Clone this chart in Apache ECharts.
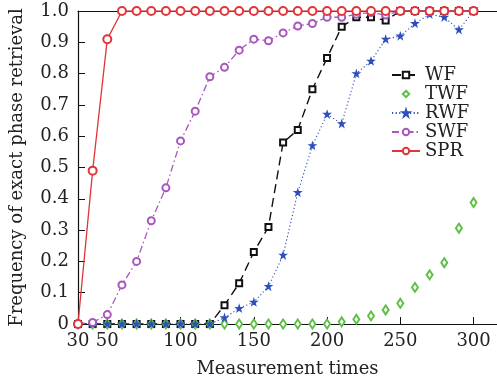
<!DOCTYPE html>
<html>
<head>
<meta charset="utf-8">
<script src="https://cdn.jsdelivr.net/npm/echarts@6/dist/echarts.min.js"></script>
<style>
  html, body { margin: 0; padding: 0; background: #fff; }
  #chart { width: 497px; height: 384px; }
</style>
</head>
<body>
<div id="chart"></div>
<script>
const measurementTimes = [30, 40, 50, 60, 70, 80, 90, 100, 110, 120, 130, 140, 150, 160, 170, 180, 190, 200, 210, 220, 230, 240, 250, 260, 270, 280, 290, 300];
const wf  = [0, 0, 0, 0, 0, 0, 0, 0, 0, 0, 0.06, 0.13, 0.23, 0.31, 0.58, 0.62, 0.75, 0.85, 0.95, 0.98, 0.98, 0.97, 1, 1, 1, 1, 1, 1];
const twf = [0, 0, 0, 0, 0, 0, 0, 0, 0, 0, 0, 0, 0, 0, 0, 0, 0, 0, 0.007, 0.015, 0.026, 0.045, 0.066, 0.117, 0.157, 0.196, 0.306, 0.388];
const rwf = [0, 0, 0, 0, 0, 0, 0, 0, 0, 0, 0.02, 0.05, 0.07, 0.12, 0.22, 0.42, 0.57, 0.67, 0.64, 0.80, 0.84, 0.91, 0.92, 0.96, 0.99, 0.98, 0.94, 1];
const swf = [0, 0.005, 0.03, 0.125, 0.2, 0.33, 0.435, 0.585, 0.68, 0.79, 0.82, 0.875, 0.91, 0.905, 0.93, 0.952, 0.96, 0.98, 0.98, 0.99, 0.995, 0.987, 1, 1, 1, 1, 1, 1];
const spr = [0, 0.49, 0.91, 1, 1, 1, 1, 1, 1, 1, 1, 1, 1, 1, 1, 1, 1, 1, 1, 1, 1, 1, 1, 1, 1, 1, 1, 1];
const xTicks = [30, 50, 100, 150, 200, 250, 300];

const font = "'DejaVu Serif', 'Liberation Serif', serif";
const starPath = "path://M50,0 L61.8,35.4 L100,35.4 L69.1,57.3 L80.9,95.1 L50,72.4 L19.1,95.1 L30.9,57.3 L0,35.4 L38.2,35.4 Z";

const pairs = (ys) => measurementTimes.map((x, i) => [x, ys[i]]);

function lineSeries(name, ys, color, symbol, size, dash, z, width) {
  return {
    name, type: "line", data: pairs(ys), z,
    symbol, symbolSize: size, showSymbol: true, showAllSymbol: true,
    lineStyle: { color, width: width, type: dash },
    itemStyle: { color, borderColor: color, borderWidth: 1.3 },
    emphasis: { disabled: true }
  };
}

const chart = echarts.init(document.getElementById("chart"), null, { renderer: "canvas" });
chart.setOption({
  animation: false,
  backgroundColor: "#fff",
  textStyle: { fontFamily: font, color: "#222" },
  grid: { left: 78, right: 0, top: 11, bottom: 60, containLabel: false },
  legend: {
    orient: "vertical", left: 386, top: 61, itemWidth: 28, itemHeight: 8, itemGap: 1,
    textStyle: { fontFamily: font, fontSize: 18, color: "#222", lineHeight: 18 },
    data: ["WF", "TWF", "RWF", "SWF", "SPR"]
  },
  xAxis: [{
    type: "value", min: 30, max: 316,
    name: "Measurement times", nameLocation: "middle", nameGap: 36,
    nameTextStyle: { fontFamily: font, fontSize: 18, color: "#222" },
    axisLine: { lineStyle: { color: "#111", width: 1.2 } },
    axisTick: { inside: true, length: 7, customValues: xTicks, lineStyle: { color: "#111" } },
    axisLabel: { customValues: xTicks, fontFamily: font, fontSize: 18, color: "#222", margin: 8 },
    splitLine: { show: false }
  }, {
    type: "value", min: 30, max: 316, position: "top",
    axisLine: { show: true, lineStyle: { color: "#111", width: 1.2 } },
    axisTick: { show: false }, axisLabel: { show: false }, splitLine: { show: false }
  }],
  yAxis: {
    type: "value", min: 0, max: 1, interval: 0.1,
    name: "Frequency of exact phase retrieval", nameLocation: "middle", nameGap: 52,
    nameTextStyle: { fontFamily: font, fontSize: 18, color: "#222" },
    axisLine: { show: true, lineStyle: { color: "#111", width: 1.2 } },
    axisTick: { inside: true, length: 7, lineStyle: { color: "#111" } },
    axisLabel: { fontFamily: font, fontSize: 18, color: "#222", margin: 9,
      formatter: (v) => v === 0 ? "0" : v.toFixed(1) },
    splitLine: { show: false }
  },
  series: [
    lineSeries("WF", wf, "#111", "emptyRect", 6, [9, 5], 2, 1.4),
    Object.assign(lineSeries("TWF", twf, "#5dbf45", "emptyDiamond", [6, 9], "solid", 3, 0), { lineStyle: { width: 0, opacity: 0, color: "#5dbf45" } }),
    lineSeries("RWF", rwf, "#2f4fbf", starPath, 6, [1.2, 2.4], 4, 1.1),
    lineSeries("SWF", swf, "#a957bf", "emptyCircle", 7, [7, 3, 1.5, 3], 5, 1.3),
    lineSeries("SPR", spr, "#e0353a", "emptyCircle", 8, "solid", 6, 1.3)
  ]
});
</script>
</body>
</html>
